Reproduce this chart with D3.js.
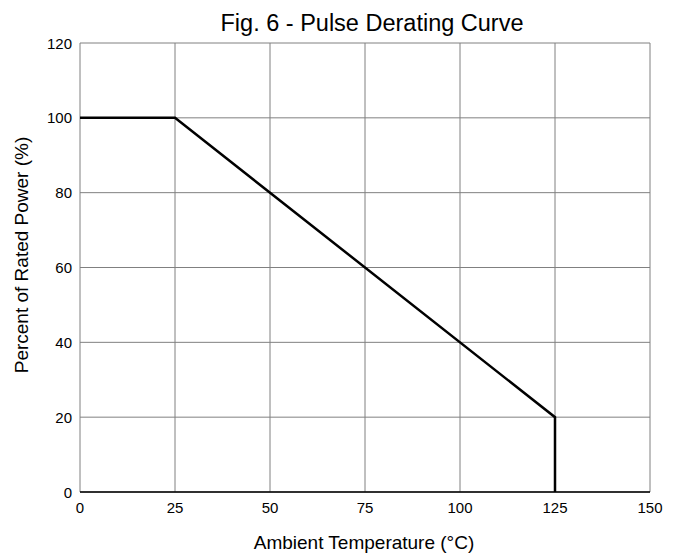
<!DOCTYPE html>
<html>
<head>
<meta charset="utf-8">
<script src="https://cdn.jsdelivr.net/npm/d3@7"></script>
<style>
  body { margin: 0; background: #fff; }
  text { font-family: "Liberation Sans", Arial, sans-serif; fill: #000; }
</style>
</head>
<body>
<script>
var temps = [0, 25, 125, 125];
var power = [100, 100, 20, 0];
var xTicks = [0, 25, 50, 75, 100, 125, 150];
var yTicks = [0, 20, 40, 60, 80, 100, 120];

var width = 684, height = 558;
var margin = { left: 80, right: 34, top: 43, bottom: 66 };

var svg = d3.select("body").append("svg")
  .attr("width", width)
  .attr("height", height);

var x = d3.scaleLinear().domain([0, 150]).range([margin.left, width - margin.right]);
var y = d3.scaleLinear().domain([0, 120]).range([height - margin.bottom, margin.top]);

// grid
svg.append("g").selectAll("line")
  .data(xTicks)
  .enter().append("line")
  .attr("x1", d => x(d)).attr("x2", d => x(d))
  .attr("y1", y(0)).attr("y2", y(120))
  .attr("stroke", "#808080").attr("stroke-width", 1);

svg.append("g").selectAll("line")
  .data(yTicks)
  .enter().append("line")
  .attr("x1", x(0)).attr("x2", x(150))
  .attr("y1", d => y(d)).attr("y2", d => y(d))
  .attr("stroke", "#808080").attr("stroke-width", 1);

// bottom axis line
svg.append("line")
  .attr("x1", x(0)).attr("x2", x(150))
  .attr("y1", y(0)).attr("y2", y(0))
  .attr("stroke", "#000").attr("stroke-width", 1.5);

// tick labels
svg.append("g").selectAll("text")
  .data(xTicks)
  .enter().append("text")
  .attr("x", d => x(d))
  .attr("y", y(0) + 21)
  .attr("text-anchor", "middle")
  .style("font-size", "15px")
  .text(d => d);

svg.append("g").selectAll("text")
  .data(yTicks)
  .enter().append("text")
  .attr("x", x(0) - 8)
  .attr("y", d => y(d) + 5.5)
  .attr("text-anchor", "end")
  .style("font-size", "15px")
  .text(d => d);

// curve
var pts = temps.map((t, i) => [t, power[i]]);
svg.append("path")
  .datum(pts)
  .attr("fill", "none")
  .attr("stroke", "#000")
  .attr("stroke-width", 2.5)
  .attr("d", d3.line().x(d => x(d[0])).y(d => y(d[1])));

// titles
svg.append("text")
  .attr("x", 372)
  .attr("y", 31)
  .attr("text-anchor", "middle")
  .style("font-size", "23.5px")
  .text("Fig. 6 - Pulse Derating Curve");

svg.append("text")
  .attr("x", 364)
  .attr("y", 549)
  .attr("text-anchor", "middle")
  .style("font-size", "19px")
  .text("Ambient Temperature (°C)");

svg.append("text")
  .attr("transform", "translate(28,255) rotate(-90)")
  .attr("text-anchor", "middle")
  .style("font-size", "19px")
  .text("Percent of Rated Power (%)");
</script>
</body>
</html>
